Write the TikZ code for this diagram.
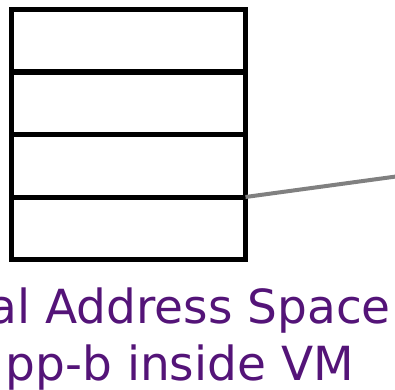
\documentclass[tikz,border=0pt]{standalone}
\usepackage{fontspec}
\setmainfont{DejaVu Sans}
\definecolor{labelpurple}{RGB}{84,20,120}
\definecolor{linkgray}{RGB}{128,128,128}
\begin{document}
\begin{tikzpicture}[x=1pt,y=1pt,
  slot/.style={draw=black, line width=5pt, minimum width=234.5pt,
    minimum height=62.5pt, inner sep=0pt, outer sep=0pt, anchor=north west},
  link/.style={draw=linkgray, line width=4pt},
  caption/.style={text=labelpurple, font=\fontsize{47}{56}\selectfont,
    inner sep=0pt, anchor=base east}]
\useasboundingbox (0,0) rectangle (395,389);
\clip (0,0) rectangle (395,389);
% stack of four memory slots
\node[slot] (r1) at (11,379.5) {};
\node[slot] (r2) at (r1.south west) {};
\node[slot] (r3) at (r2.south west) {};
\node[slot] (r4) at (r3.south west) {};
% connector leaving to the right
\coordinate (far) at (410,214.4);
\draw[link] (r4.north east) -- (far);
% caption
\node[caption] (cap1) at (391,66) {al Address Space};
\node[caption] (cap2) at (354,9) {pp-b inside VM};
\end{tikzpicture}
\end{document}
